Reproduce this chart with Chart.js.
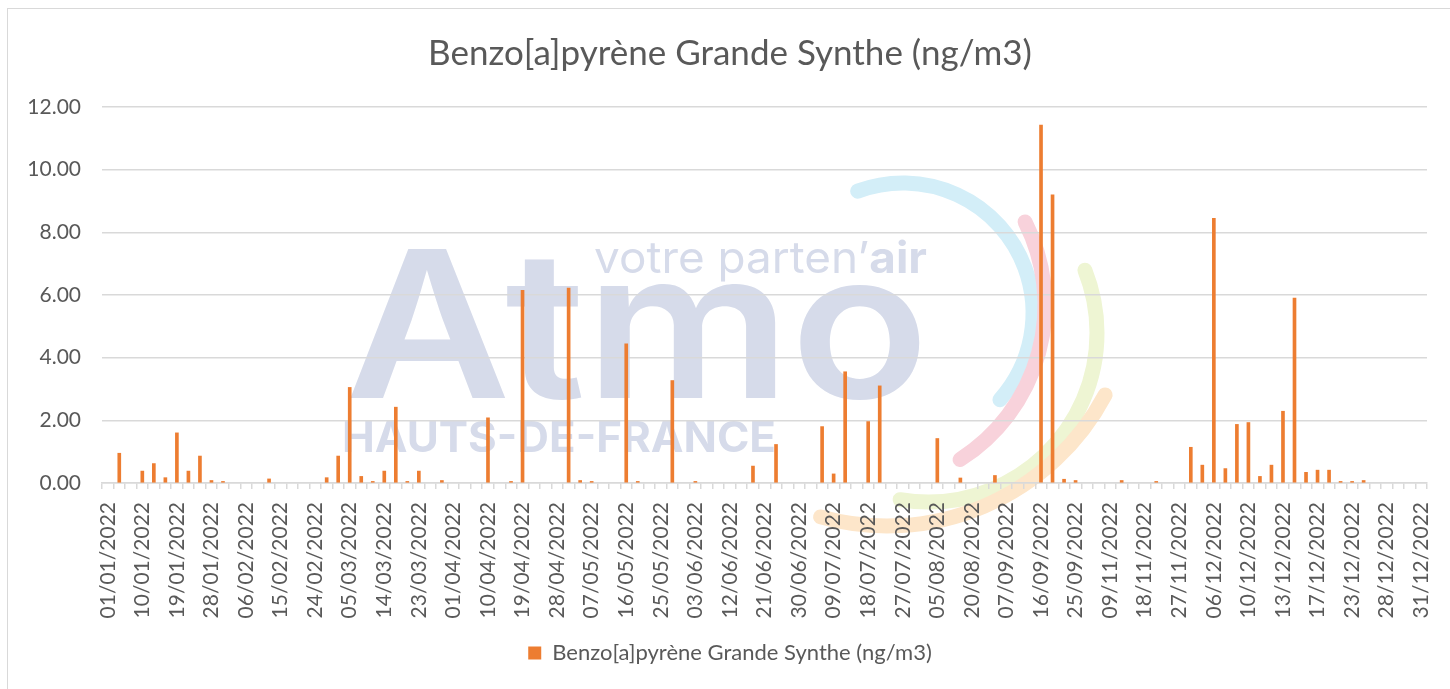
<!DOCTYPE html>
<html>
<head>
<meta charset="utf-8">
<script src="https://cdn.jsdelivr.net/npm/chart.js@4.4.1/dist/chart.umd.min.js"></script>
<style>
    html, body { margin: 0; padding: 0; background: #fff; }
    #wrap { position: relative; width: 1450px; height: 689px; overflow: hidden; }
    #frame { position: absolute; left: 7px; top: 8px; width: 1460px; height: 700px; border: 1.5px solid #d9d9d9; }
    #chart { position: absolute; left: 0; top: 0; }
</style>
</head>
<body>
<div id="wrap">
    <div id="frame"></div>
    <canvas id="chart" width="1450" height="689"></canvas>
</div>
<script>
const TITLE = 'Benzo[a]pyrène Grande Synthe (ng/m3)';

// sampling dates (every 3rd one is labelled on the axis)
const dates = [
    '01/01/2022','04/01/2022','07/01/2022','10/01/2022','13/01/2022','16/01/2022','19/01/2022','22/01/2022','25/01/2022','28/01/2022',
    '31/01/2022','03/02/2022','06/02/2022','09/02/2022','12/02/2022','15/02/2022','18/02/2022','21/02/2022','24/02/2022','27/02/2022',
    '02/03/2022','05/03/2022','08/03/2022','11/03/2022','14/03/2022','17/03/2022','20/03/2022','23/03/2022','26/03/2022','29/03/2022',
    '01/04/2022','04/04/2022','07/04/2022','10/04/2022','13/04/2022','16/04/2022','19/04/2022','22/04/2022','25/04/2022','28/04/2022',
    '01/05/2022','04/05/2022','07/05/2022','10/05/2022','13/05/2022','16/05/2022','19/05/2022','22/05/2022','25/05/2022','28/05/2022',
    '31/05/2022','03/06/2022','06/06/2022','09/06/2022','12/06/2022','15/06/2022','18/06/2022','21/06/2022','24/06/2022','27/06/2022',
    '30/06/2022','03/07/2022','06/07/2022','09/07/2022','12/07/2022','15/07/2022','18/07/2022','21/07/2022','24/07/2022','27/07/2022',
    '30/07/2022','02/08/2022','05/08/2022','10/08/2022','15/08/2022','20/08/2022','26/08/2022','01/09/2022','07/09/2022','10/09/2022',
    '13/09/2022','16/09/2022','19/09/2022','22/09/2022','25/09/2022','10/10/2022','25/10/2022','09/11/2022','12/11/2022','15/11/2022',
    '18/11/2022','21/11/2022','24/11/2022','27/11/2022','30/11/2022','03/12/2022','06/12/2022','07/12/2022','09/12/2022','10/12/2022',
    '11/12/2022','12/12/2022','13/12/2022','14/12/2022','15/12/2022','17/12/2022','19/12/2022','21/12/2022','23/12/2022','25/12/2022',
    '26/12/2022','28/12/2022','29/12/2022','30/12/2022','31/12/2022'
];

// ng/m3, null = no measure
const bap = [
    null, 0.95, null, 0.38, 0.62, 0.17, 1.6, 0.38, 0.86, 0.08,
    0.05, null, null, null, 0.13, null, null, null, null, 0.17,
    0.86, 3.05, 0.21, 0.05, 0.38, 2.42, 0.05, 0.38, null, 0.08,
    null, null, null, 2.08, null, 0.05, 6.15, null, null, null,
    6.22, 0.08, 0.05, null, null, 4.44, 0.05, null, null, 3.27,
    null, 0.05, null, null, null, null, 0.54, null, 1.23, null,
    null, null, 1.8, 0.29, 3.55, null, 1.96, 3.1, null, null,
    null, null, 1.42, null, 0.16, null, null, 0.24, null, null,
    null, 11.42, 9.2, 0.12, 0.08, null, null, null, 0.08, null,
    null, 0.05, null, null, 1.14, 0.57, 8.45, 0.46, 1.87, 1.93,
    0.21, 0.57, 2.29, 5.9, 0.34, 0.41, 0.41, 0.05, 0.05, 0.08,
    null, null, null, null, null
];

const yTicks = [0, 2, 4, 6, 8, 10, 12];

const FONT = 'Lato, "Open Sans", sans-serif';
const GREY_TEXT = '#595959';
const GRID = '#d9d9d9';

// faded "Atmo" logo behind the plot
const watermark = {
    id: 'watermark',
    beforeDraw(chart) {
        const ctx = chart.ctx;
        const fit = (text, x, y, w) => {
            const m = ctx.measureText(text).width;
            ctx.save();
            ctx.translate(x, y);
            ctx.scale(w / m, 1);
            ctx.fillText(text, 0, 0);
            ctx.restore();
        };
        ctx.save();
        ctx.fillStyle = '#d6dbea';
        ctx.textBaseline = 'alphabetic';

        ctx.font = '600 205px Inter, sans-serif';
        fit('Atmo', 345, 398, 584);

        ctx.font = 'bold 42px Inter, sans-serif';
        fit('HAUTS-DE-FRANCE', 342, 452, 434);

        ctx.font = '400 44px Inter, sans-serif';
        const w1 = ctx.measureText('votre parten\u2019').width;
        ctx.font = 'bold 44px Inter, sans-serif';
        const w2 = ctx.measureText('air').width;
        const k = 333 / (w1 + w2);
        ctx.save();
        ctx.translate(594, 273);
        ctx.scale(k, 1);
        ctx.font = '400 44px Inter, sans-serif';
        ctx.fillText('votre parten\u2019', 0, 0);
        ctx.font = 'bold 44px Inter, sans-serif';
        ctx.fillText('air', w1, 0);
        ctx.restore();

        const arcs = [
            ['#d3eef8', 903, 313, 130, -110.4, 41.8],
            ['#f8d2db', 862, 305, 183, -27, 57.6],
            ['#eef5d3', 928, 333, 169, -21.8, 99.5],
            ['#fde6ca', 887, 279, 247, 28, 105.6]
        ];
        ctx.lineWidth = 15;
        ctx.lineCap = 'round';
        arcs.forEach(([c, x, y, r, a0, a1]) => {
            ctx.strokeStyle = c;
            ctx.beginPath();
            ctx.arc(x, y, r, a0 * Math.PI / 180, a1 * Math.PI / 180);
            ctx.stroke();
        });
        ctx.restore();
    }
};

new Chart(document.getElementById('chart'), {
    type: 'bar',
    data: {
        labels: dates,
        datasets: [{
            label: TITLE,
            data: bap,
            backgroundColor: '#ed7d31',
            borderWidth: 0,
            barThickness: 3,
            yAxisID: 'y'
        }]
    },
    options: {
        responsive: false,
        devicePixelRatio: 1,
        animation: false,
        layout: { padding: { left: 20, right: 10, top: 0, bottom: 15 } },
        plugins: {
            title: {
                display: true,
                text: TITLE,
                color: GREY_TEXT,
                font: { family: FONT, size: 35, weight: 'normal' },
                padding: { top: 33, bottom: 32 }
            },
            legend: {
                position: 'bottom',
                labels: {
                    color: GREY_TEXT,
                    font: { family: FONT, size: 22 },
                    boxWidth: 13,
                    boxHeight: 13,
                    padding: 10
                }
            },
            tooltip: { enabled: false }
        },
        scales: {
            x: {
                afterFit: s => {
                    s.height = 149;
                    s.paddingLeft = 0;
                    s.paddingRight = 0;
                },
                grid: {
                    display: true,
                    drawOnChartArea: false,
                    drawTicks: true,
                    tickLength: 6,
                    color: GRID,
                    lineWidth: 1.5,
                    offset: true
                },
                border: { color: GRID, width: 1.5 },
                ticks: {
                    autoSkip: false,
                    minRotation: 90,
                    maxRotation: 90,
                    padding: 13,
                    color: GREY_TEXT,
                    font: { family: FONT, size: 21 },
                    callback: (v, i) => (i % 3 === 0 ? dates[i] : '')
                }
            },
            y: {
                min: 0,
                max: 12,
                afterFit: s => { s.width = 82; },
                afterBuildTicks: s => { s.ticks = yTicks.map(v => ({ value: v })); },
                grid: { color: GRID, lineWidth: 1.5, drawTicks: false },
                border: { display: false },
                ticks: {
                    padding: 21,
                    color: GREY_TEXT,
                    font: { family: FONT, size: 21 },
                    callback: v => v.toFixed(2)
                }
            },
            yRight: {
                position: 'right',
                afterFit: s => { s.width = 13; },
                grid: { display: false },
                border: { display: false },
                ticks: { display: false }
            }
        }
    },
    plugins: [watermark]
});
</script>
</body>
</html>
